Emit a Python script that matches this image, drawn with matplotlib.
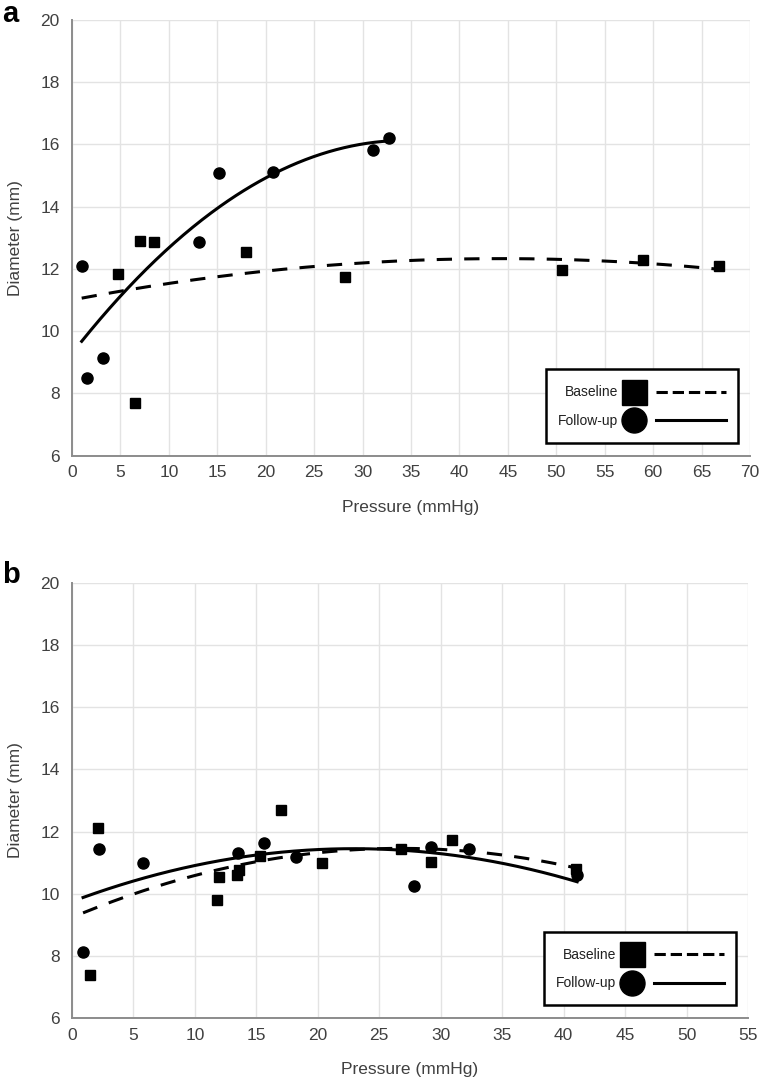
import numpy as np
import matplotlib
matplotlib.use("Agg")
import matplotlib.pyplot as plt
from matplotlib.lines import Line2D
from matplotlib.legend_handler import HandlerBase

plt.rcParams["font.family"] = ["Liberation Sans", "DejaVu Sans"]

# panel a: pressure (mmHg) vs diameter (mm)
a_base_x = [4.8, 6.5, 7.0, 8.5, 18.0, 28.2, 50.6, 59.0, 66.8]
a_base_y = [11.85, 7.7, 12.9, 12.87, 12.53, 11.75, 11.98, 12.3, 12.1]
a_follow_x = [1.0, 1.6, 3.2, 13.1, 15.2, 20.8, 31.1, 32.7]
a_follow_y = [12.1, 8.5, 9.15, 12.85, 15.07, 15.1, 15.82, 16.2]

# panel b
b_base_x = [1.5, 2.15, 11.8, 12.0, 13.4, 13.6, 15.3, 17.0, 20.3, 26.8, 29.2, 30.9, 41.0]
b_base_y = [7.4, 12.1, 9.8, 10.55, 10.6, 10.75, 11.2, 12.7, 11.0, 11.45, 11.02, 11.74, 10.8]
b_follow_x = [0.9, 2.2, 5.75, 13.5, 15.6, 18.25, 27.8, 29.2, 32.3, 41.1]
b_follow_y = [8.14, 11.43, 11.0, 11.32, 11.63, 11.19, 10.24, 11.5, 11.44, 10.6]

y_ticks = [6, 8, 10, 12, 14, 16, 18, 20]
a_x_ticks = list(range(0, 75, 5))
b_x_ticks = list(range(0, 60, 5))

TXT = "#404040"
DASH = (0, (5, 4))


class MarkerThenLine(HandlerBase):
    # legend entry: big marker first, then a short piece of the trend line
    def create_artists(self, legend, orig_handle, xdescent, ydescent,
                       width, height, fontsize, trans):
        mk, ln = orig_handle
        x0 = -xdescent
        y = height / 2 - ydescent
        m = Line2D([x0 + width * 0.13], [y], marker=mk.get_marker(),
                   markersize=mk.get_markersize(), color="black", ls="none")
        l = Line2D([x0 + width * 0.34, x0 + width], [y, y], color="black",
                   lw=ln.get_linewidth(), ls=ln.get_linestyle())
        m.set_transform(trans)
        l.set_transform(trans)
        return [m, l]


def draw_panel(ax, bx, by, fx, fy, xmax, xticks):
    ax.set_xlim(0, xmax)
    ax.set_ylim(6, 20)
    ax.set_xticks(xticks)
    ax.set_yticks(y_ticks)
    ax.grid(True, color="#e3e3e3", lw=1.0)
    ax.set_axisbelow(True)
    for s in ["top", "right"]:
        ax.spines[s].set_visible(False)
    for s in ["left", "bottom"]:
        ax.spines[s].set_color("#8c8c8c")
        ax.spines[s].set_linewidth(1.4)
    ax.tick_params(length=0, labelsize=12.5, labelcolor=TXT)
    ax.tick_params(axis="x", pad=7)
    ax.tick_params(axis="y", pad=9)
    ax.set_xlabel("Pressure (mmHg)", fontsize=12.5, color=TXT, labelpad=14)
    ax.set_ylabel("Diameter (mm)", fontsize=12.5, color=TXT, labelpad=12)

    ax.plot(bx, by, "s", color="black", ms=7.5, ls="none")
    ax.plot(fx, fy, "o", color="black", ms=8, ls="none")

    # second-order trend lines fitted to each series
    x_start = min(min(bx), min(fx))
    xb = np.linspace(x_start, max(bx), 200)
    xf = np.linspace(x_start, max(fx), 200)
    ax.plot(xb, np.polyval(np.polyfit(bx, by, 2), xb), color="black", lw=2.2, ls=DASH)
    ax.plot(xf, np.polyval(np.polyfit(fx, fy, 2), xf), color="black", lw=2.2, ls="-")

    h_base = (Line2D([], [], marker="s", markersize=18, ls="none"),
              Line2D([], [], lw=2.2, ls=DASH))
    h_follow = (Line2D([], [], marker="o", markersize=18, ls="none"),
                Line2D([], [], lw=2.2, ls="-"))
    leg = ax.legend([h_base, h_follow], ["Baseline", "Follow-up"],
                    handler_map={tuple: MarkerThenLine()},
                    loc="lower right", bbox_to_anchor=(0.982, 0.029),
                    markerfirst=False, fontsize=10, handlelength=7.6,
                    handleheight=2.0, handletextpad=0.15, labelspacing=0.5,
                    borderpad=0.85, borderaxespad=0, fancybox=False,
                    framealpha=1, edgecolor="black")
    leg.get_frame().set_linewidth(1.8)
    for t in leg.get_texts():
        t.set_color("#202020")


fig = plt.figure(figsize=(7.62, 10.82), dpi=100)
ax_a = fig.add_axes([72 / 762, 1 - 455.6 / 1082, 678 / 762, 435.6 / 1082])
ax_b = fig.add_axes([72 / 762, 1 - 1018 / 1082, 676 / 762, 435 / 1082])

draw_panel(ax_a, a_base_x, a_base_y, a_follow_x, a_follow_y, 70, a_x_ticks)
draw_panel(ax_b, b_base_x, b_base_y, b_follow_x, b_follow_y, 55, b_x_ticks)

fig.text(2 / 762, 1 - 22 / 1082, "a", fontsize=21, fontweight="bold", va="baseline")
fig.text(2 / 762, 1 - 583 / 1082, "b", fontsize=21, fontweight="bold", va="baseline")

fig.savefig("out.png", dpi=100)
